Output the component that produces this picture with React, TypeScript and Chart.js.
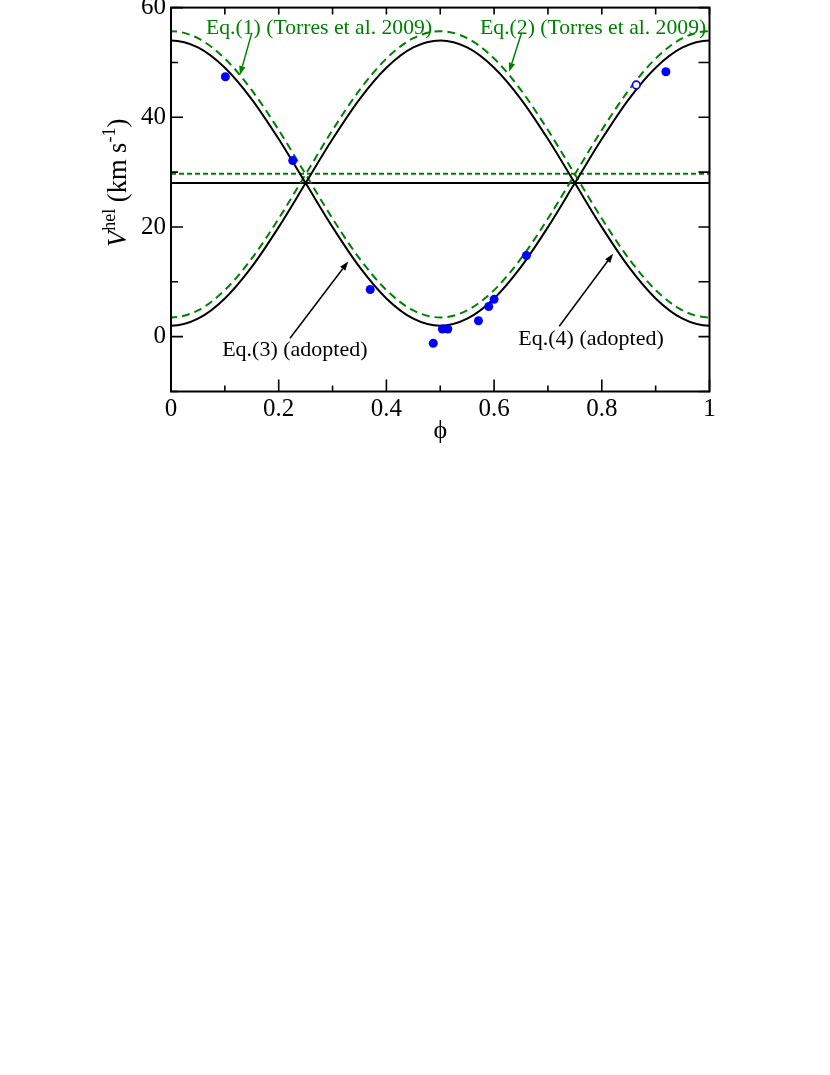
import { useEffect, useRef } from 'react';
import { Chart, registerables } from 'chart.js';
Chart.register(...registerables);

// ---- data ----
const PHASE_GRID = [-0.05, 0, 0.05, 0.1, 0.15, 0.2, 0.25, 0.3, 0.35, 0.4, 0.45, 0.5, 0.55, 0.6, 0.65, 0.7, 0.75, 0.8, 0.85, 0.9, 0.95, 1, 1.05];
// Eq.(3) adopted (black solid)
const EQ3_V = [52.73, 54, 52.73, 49.03, 43.28, 36.03, 28, 19.97, 12.72, 6.97, 3.27, 2, 3.27, 6.97, 12.72, 19.97, 28, 36.03, 43.28, 49.03, 52.73, 54, 52.73];
// Eq.(4) adopted (black solid)
const EQ4_V = [3.27, 2, 3.27, 6.97, 12.72, 19.97, 28, 36.03, 43.28, 49.03, 52.73, 54, 52.73, 49.03, 43.28, 36.03, 28, 19.97, 12.72, 6.97, 3.27, 2, 3.27];
// Eq.(1) Torres et al. 2009 (green dashed)
const EQ1_V = [54.42, 55.7, 54.42, 50.71, 44.94, 37.67, 29.6, 21.53, 14.26, 8.49, 4.78, 3.5, 4.78, 8.49, 14.26, 21.53, 29.6, 37.67, 44.94, 50.71, 54.42, 55.7, 54.42];
// Eq.(2) Torres et al. 2009 (green dashed)
const EQ2_V = [4.78, 3.5, 4.78, 8.49, 14.26, 21.53, 29.6, 37.67, 44.94, 50.71, 54.42, 55.7, 54.42, 50.71, 44.94, 37.67, 29.6, 21.53, 14.26, 8.49, 4.78, 3.5, 4.78];

const LINE_ENDS = [0, 1];
const GAMMA_ADOPTED = [28, 28];
const GAMMA_TORRES = [29.7, 29.7];

const OBS_PHASE = [0.101, 0.226, 0.37, 0.487, 0.504, 0.514, 0.571, 0.59, 0.6, 0.66, 0.919];
const OBS_V = [47.4, 32.1, 8.6, -1.2, 1.4, 1.4, 2.9, 5.5, 6.8, 14.8, 48.3];
const OPEN_PHASE = [0.864];
const OPEN_V = [45.9];

const X_TICK_LABELS = ['0', '0.2', '0.4', '0.6', '0.8', '1'];
const Y_TICK_LABELS = ['0', '20', '40', '60'];

const LABEL_EQ1 = 'Eq.(1) (Torres et al. 2009)';
const LABEL_EQ2 = 'Eq.(2) (Torres et al. 2009)';
const LABEL_EQ3 = 'Eq.(3) (adopted)';
const LABEL_EQ4 = 'Eq.(4) (adopted)';

// ---- styles ----
const GREEN = '#008000';
const BLUE = '#0000ff';
const FONT = "'Liberation Serif', 'Times New Roman', serif";

const zip = (xs: number[], ys: number[]) => xs.map((x, i) => ({ x, y: ys[i] }));

const ANNOTATIONS = [
  { text: LABEL_EQ1, color: GREEN, size: 21.7, tx: 0.065, ty: 55.2, ax0: 0.15, ay0: 55.4, ax1: 0.128, ay1: 47.7 },
  { text: LABEL_EQ2, color: GREEN, size: 21.7, tx: 0.574, ty: 55.2, ax0: 0.651, ay0: 55.4, ax1: 0.628, ay1: 48.3 },
  { text: LABEL_EQ3, color: '#000', size: 22, tx: 0.095, ty: -3.5, ax0: 0.221, ay0: -0.3, ax1: 0.329, ay1: 13.7 },
  { text: LABEL_EQ4, color: '#000', size: 22, tx: 0.645, ty: -1.5, ax0: 0.721, ay0: 1.9, ax1: 0.821, ay1: 15.1 },
];

const framePlugin = {
  id: 'frameAndAnnotations',
  afterDatasetsDraw(chart: any) {
    const { ctx, chartArea: a, scales } = chart;
    const xs = scales.x;
    const ys = scales.y;
    ctx.save();
    // frame
    ctx.strokeStyle = '#000';
    ctx.lineWidth = 2;
    ctx.strokeRect(a.left, a.top, a.right - a.left, a.bottom - a.top);
    // tick marks (inside)
    ctx.lineWidth = 1.6;
    ctx.beginPath();
    xs.ticks.forEach((t: any, i: number) => {
      const px = xs.getPixelForValue(t.value);
      const major = i % 2 === 0;
      ctx.moveTo(px, a.bottom);
      ctx.lineTo(px, a.bottom - (major ? 12 : 6));
      ctx.moveTo(px, a.top);
      ctx.lineTo(px, a.top + 7);
    });
    ys.ticks.forEach((t: any, i: number) => {
      const py = ys.getPixelForValue(t.value);
      const major = i % 2 === 1;
      ctx.moveTo(a.left, py);
      ctx.lineTo(a.left + (major ? 12 : 7), py);
      ctx.moveTo(a.right, py);
      ctx.lineTo(a.right - 11, py);
    });
    ctx.stroke();

    // annotations
    ANNOTATIONS.forEach((an) => {
      ctx.fillStyle = an.color;
      ctx.strokeStyle = an.color;
      ctx.font = `${an.size}px ${FONT}`;
      ctx.textAlign = 'left';
      ctx.textBaseline = 'alphabetic';
      ctx.fillText(an.text, xs.getPixelForValue(an.tx), ys.getPixelForValue(an.ty));
      const x0 = xs.getPixelForValue(an.ax0);
      const y0 = ys.getPixelForValue(an.ay0);
      const x1 = xs.getPixelForValue(an.ax1);
      const y1 = ys.getPixelForValue(an.ay1);
      const ang = Math.atan2(y1 - y0, x1 - x0);
      const hl = 9;
      const hw = 3.2;
      const bx = x1 - hl * Math.cos(ang);
      const by = y1 - hl * Math.sin(ang);
      ctx.lineWidth = 1.5;
      ctx.beginPath();
      ctx.moveTo(x0, y0);
      ctx.lineTo(bx, by);
      ctx.stroke();
      ctx.beginPath();
      ctx.moveTo(x1, y1);
      ctx.lineTo(bx + hw * Math.sin(ang), by - hw * Math.cos(ang));
      ctx.lineTo(bx - hw * Math.sin(ang), by + hw * Math.cos(ang));
      ctx.closePath();
      ctx.fill();
    });

    // axis titles
    ctx.fillStyle = '#000';
    ctx.textAlign = 'center';
    ctx.font = `26px ${FONT}`;
    ctx.fillText('\u03d5', (a.left + a.right) / 2, 438);

    ctx.translate(126, 247);
    ctx.rotate(-Math.PI / 2);
    ctx.textAlign = 'left';
    let cx = 0;
    const part = (s: string, size: number, italic: boolean, rise: number) => {
      ctx.font = `${italic ? 'italic ' : ''}${size}px ${FONT}`;
      ctx.fillText(s, cx, -rise);
      cx += ctx.measureText(s).width;
    };
    part('V', 26.5, true, 0);
    part('hel', 18, false, 11);
    part(' (km s', 26.5, false, 0);
    part('-1', 18, false, 11);
    part(')', 26.5, false, 0);
    ctx.restore();
  },
};

export default function App() {
  const ref = useRef<HTMLCanvasElement>(null);
  useEffect(() => {
    const curve = (data: number[], color: string, dash: number[]) => ({
      type: 'line' as const,
      data: zip(PHASE_GRID, data),
      borderColor: color,
      borderWidth: 2,
      borderDash: dash,
      pointRadius: 0,
      fill: false,
      cubicInterpolationMode: 'monotone' as const,
    });
    const flat = (data: number[], color: string, dash: number[]) => ({
      type: 'line' as const,
      data: zip(LINE_ENDS, data),
      borderColor: color,
      borderWidth: 2,
      borderDash: dash,
      pointRadius: 0,
      fill: false,
    });
    const chart = new Chart(ref.current!, {
      type: 'line',
      data: {
        datasets: [
          {
            data: zip(OBS_PHASE, OBS_V),
            showLine: false,
            pointRadius: 4.5,
            pointBackgroundColor: BLUE,
            pointBorderColor: BLUE,
            pointBorderWidth: 0,
          } as any,
          {
            data: zip(OPEN_PHASE, OPEN_V),
            showLine: false,
            pointRadius: 3.8,
            pointBackgroundColor: '#fff',
            pointBorderColor: BLUE,
            pointBorderWidth: 1.6,
          } as any,
          curve(EQ3_V, '#000', []),
          curve(EQ4_V, '#000', []),
          curve(EQ1_V, GREEN, [8, 5]),
          curve(EQ2_V, GREEN, [8, 5]),
          flat(GAMMA_ADOPTED, '#000', []),
          flat(GAMMA_TORRES, GREEN, [5, 3]),
        ],
      },
      options: {
        responsive: false,
        animation: false,
        devicePixelRatio: 1,
        layout: { autoPadding: false, padding: { left: 0, top: 7.6, right: 120.5, bottom: 633.5 } },
        plugins: { legend: { display: false }, tooltip: { enabled: false } },
        events: [],
        scales: {
          x: {
            type: 'linear',
            min: 0,
            max: 1,
            grid: { display: false },
            border: { display: false },
            afterFit: (s: any) => { s.height = 50; s.paddingLeft = 0; s.paddingRight = 0; },
            ticks: {
              stepSize: 0.1,
              autoSkip: false,
              maxRotation: 0,
              padding: -5,
              color: '#000',
              font: { family: FONT, size: 25 },
              callback: (_v: any, i: number) => (i % 2 === 0 ? X_TICK_LABELS[i / 2] : ''),
            },
          },
          y: {
            type: 'linear',
            min: -10,
            max: 60,
            grid: { display: false },
            border: { display: false },
            afterFit: (s: any) => { s.width = 171; s.paddingTop = 0; s.paddingBottom = 0; },
            ticks: {
              stepSize: 10,
              autoSkip: false,
              padding: -3,
              color: '#000',
              font: { family: FONT, size: 25 },
              callback: (_v: any, i: number) => (i % 2 === 1 ? Y_TICK_LABELS[(i - 1) / 2] : ''),
            },
          },
        },
      },
      plugins: [framePlugin],
    } as any);
    return () => chart.destroy();
  }, []);
  return (
    <div style={{ position: 'absolute', left: 0, top: 0, width: 830, height: 1075, background: '#fff' }}>
      <canvas ref={ref} width={830} height={1075} style={{ display: 'block' }} />
    </div>
  );
}
